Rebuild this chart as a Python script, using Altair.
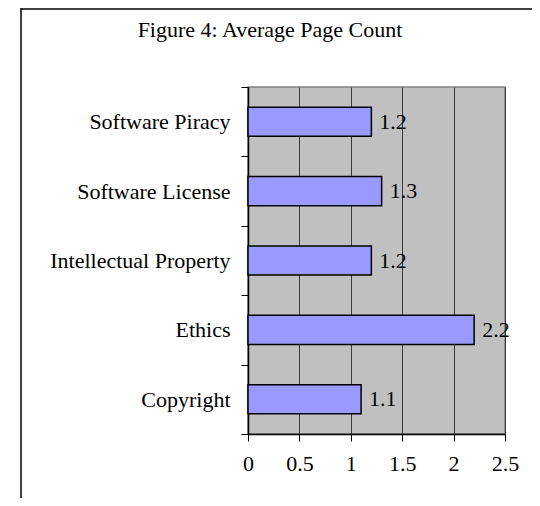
import altair as alt
import pandas as pd

categories = ["Software Piracy", "Software License", "Intellectual Property", "Ethics", "Copyright"]
values = [1.2, 1.3, 1.2, 2.2, 1.1]
x_ticks = [0, 0.5, 1, 1.5, 2, 2.5]
title_text = "Figure 4: Average Page Count"

df = pd.DataFrame({"topic": categories, "count": values})

FONT = "Liberation Serif"
FS = 22

y_enc = alt.Y(
    "topic:N", sort=categories, title=None,
    scale=alt.Scale(paddingInner=0, paddingOuter=0),
    axis=alt.Axis(tickBand="extent", labelFont=FONT, labelFontSize=FS, labelColor="black",
                  tickColor="black", domainColor="black", tickSize=7, labelPadding=11,
                  grid=False, labelLimit=400, domainWidth=1.5, tickWidth=1),
)
x_enc = alt.X(
    "count:Q", title=None,
    scale=alt.Scale(domain=[0, 2.5], nice=False, zero=True),
    axis=alt.Axis(values=x_ticks, format="~g", labelFont=FONT, labelFontSize=FS, labelColor="black",
                  grid=True, gridColor="#3a3a3a", gridWidth=1, tickSize=7, labelPadding=12,
                  domainColor="black", domainWidth=1.5, tickColor="black", tickWidth=1,
                  labelFlush=False),
)

bars = alt.Chart(df).mark_bar(
    color="#9999FF", stroke="black", strokeWidth=1.5, height=alt.RelativeBandSize(0.42)
).encode(x=x_enc, y=y_enc)

labels = alt.Chart(df).mark_text(
    align="left", baseline="middle", dx=8, font=FONT, fontSize=FS, color="black"
).encode(x=alt.X("count:Q"), y=alt.Y("topic:N", sort=categories), text=alt.Text("count:Q", format=".1f"))

frame_src = alt.Data(values=[{"k": 1}])
left_line = alt.Chart(frame_src).mark_rule(color="black", strokeWidth=1.5).encode(
    x=alt.value(-227), y=alt.value(-79), y2=alt.value(430)
)
top_line = alt.Chart(frame_src).mark_rule(color="black", strokeWidth=1.5).encode(
    x=alt.value(-227), x2=alt.value(290), y=alt.value(-78)
)
title_mark = alt.Chart(alt.Data(values=[{"t": title_text}])).mark_text(
    font=FONT, fontSize=FS, color="black", align="center", baseline="middle"
).encode(x=alt.value(22), y=alt.value(-57), text="t:N")

chart = alt.layer(bars, labels, left_line, top_line, title_mark).properties(
    width=257, height=347,
    autosize=alt.AutoSizeParams(type="none"),
    padding={"left": 240, "top": 79, "right": 27, "bottom": 64},
    background="white",
).configure_view(fill="#C0C0C0", stroke="#808080", strokeWidth=1.5)

chart.save("out.html", embed_options={"renderer": "svg", "actions": False})
